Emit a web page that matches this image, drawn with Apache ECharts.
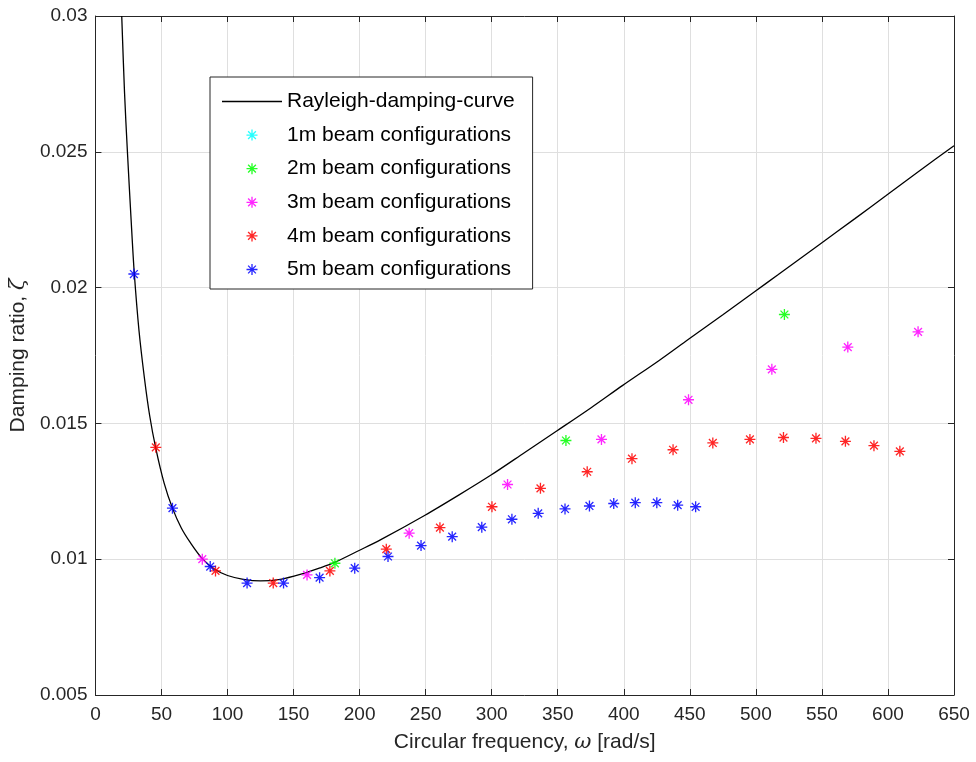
<!DOCTYPE html>
<html>
<head>
<meta charset="utf-8">
<script src="https://cdn.jsdelivr.net/npm/echarts@6/dist/echarts.min.js"></script>
<style>html,body{margin:0;padding:0;background:#fff}#c{width:976px;height:762px}</style>
</head>
<body>
<div id="c"></div>
<script>
// ---- data ----
const seriesNames = ['Rayleigh-damping-curve','1m beam configurations','2m beam configurations','3m beam configurations','4m beam configurations','5m beam configurations'];

const curveOmega = [19.9,22,24.2,27,29.3,33,37,41,45.7,52,58.3,65,72,80.9,90,100,112,125,140,155,170,181,200,215.7,249.5,275,299.2,325,349.2,375,399.2,426.5,449,475,499,517,548.2,575,598.4,625,650];
const curveZeta  = [0.0300,0.0272,0.0250,0.0225,0.0206,0.0184,0.0167,0.0153,0.01408,0.0128,0.01188,0.01115,0.0106,0.01002,0.00964,0.00940,0.00926,0.00920,0.00926,0.00944,0.00968,0.00988,0.01033,0.01071,0.01162,0.01236,0.01309,0.01393,0.01472,0.01557,0.01640,0.01731,0.01810,0.01900,0.01985,0.02048,0.02159,0.02254,0.02338,0.02434,0.02522];

const beam1Omega = [];
const beam1Zeta  = [];
const beam2Omega = [181.3,356.2,521.6];
const beam2Zeta  = [0.00985,0.01437,0.01901];
const beam3Omega = [80.9,160.2,237.5,312,383.1,449,512.1,569.6,622.8];
const beam3Zeta  = [0.0100,0.00942,0.01096,0.01275,0.01441,0.01587,0.01699,0.01781,0.01837];
const beam4Omega = [45.7,90.9,134.6,177.5,220.2,260.8,300.2,336.9,372.3,406.2,437.3,467.4,495.5,520.9,545.5,567.8,589.4,609];
const beam4Zeta  = [0.01412,0.00957,0.00912,0.00957,0.01037,0.01116,0.01193,0.01261,0.01322,0.0137,0.01403,0.01428,0.01441,0.01448,0.01445,0.01434,0.01418,0.01397];
const beam5Omega = [29.1,58.3,86.9,114.8,142.4,169.7,196.3,221.5,246.5,270.1,292.5,315.3,335.2,355.5,374,392.4,408.7,425,440.8,454.4];
const beam5Zeta  = [0.0205,0.01188,0.00973,0.00912,0.00912,0.00932,0.00967,0.0101,0.0105,0.01083,0.01118,0.01147,0.01169,0.01185,0.01196,0.01205,0.01208,0.01208,0.01199,0.01193];

const xTickLabels = ['0','50','100','150','200','250','300','350','400','450','500','550','600','650'];
const yTickLabels = ['0.005','0.01','0.015','0.02','0.025','0.03'];

// ---- build ----
const zip = (a, b) => a.map((v, i) => [v, b[i]]);
const TXT = '#262626';
const GRID = '#dfdfdf';
const FONT = '"Liberation Sans", Arial, Helvetica, sans-serif';
const AST = 'path://M-1.2,-10L1.2,-10L1.2,10L-1.2,10Z M-10,-1.2L10,-1.2L10,1.2L-10,1.2Z M-6.22,-7.92L7.92,6.22L6.22,7.92L-7.92,-6.22Z M6.22,-7.92L7.92,-6.22L-6.22,7.92L-7.92,6.22Z';
const LINE_ICON = 'path://M0,0L100,0L100,2.2L0,2.2Z';

const xMin = +xTickLabels[0], xMax = +xTickLabels[xTickLabels.length-1];
const xInt = +xTickLabels[1] - +xTickLabels[0];
const yMin = +yTickLabels[0], yMax = +yTickLabels[yTickLabels.length-1];
const yInt = 0.005;

function scatter(name, color, om, ze) {
  return {
    name, type: 'scatter', data: zip(om, ze),
    symbol: AST, symbolSize: 11, symbolKeepAspect: true,
    itemStyle: { color, opacity: 0.85 },
    emphasis: { disabled: true }, z: 3
  };
}

const chart = echarts.init(document.getElementById('c'), null, { renderer: 'canvas' });
const axisCommon = {
  axisLine: { show: true, onZero: false, lineStyle: { color: TXT, width: 1 } },
  axisTick: { show: true, inside: true, length: 6, lineStyle: { color: TXT, width: 1 } },
};
chart.setOption({
  animation: false,
  backgroundColor: '#fff',
  textStyle: { fontFamily: FONT },
  grid: { left: 94, right: 22, top: 16, bottom: 67, containLabel: false },
  legend: {
    orient: 'vertical', left: 210, top: 77,
    padding: [14, 18, 9, 12],
    itemWidth: 60, itemHeight: 11, itemGap: 12.6,
    symbolKeepAspect: true,
    backgroundColor: '#fff', borderColor: TXT, borderWidth: 1, borderRadius: 0,
    textStyle: { fontSize: 21, color: '#000', lineHeight: 20, fontFamily: FONT },
    data: seriesNames.map((n, i) => i === 0 ? { name: n, icon: LINE_ICON } : { name: n }),
    selectedMode: false
  },
  xAxis: [
    Object.assign({
      type: 'value', min: xMin, max: xMax, interval: xInt, position: 'bottom',
      name: 'Circular frequency, {i|ω} [rad/s]', nameLocation: 'middle', nameGap: 37,
      nameTextStyle: { fontSize: 21, color: TXT, fontFamily: FONT,
        rich: { i: { fontSize: 21, fontStyle: 'italic', color: TXT, fontFamily: '"DejaVu Serif", serif' } } },
      axisLabel: { fontSize: 19, color: TXT, margin: 10, fontFamily: FONT,
        formatter: (v) => xTickLabels[Math.round((v - xMin) / xInt)] },
      splitLine: { show: true, lineStyle: { color: GRID, width: 1 } }
    }, axisCommon),
    Object.assign({
      type: 'value', min: xMin, max: xMax, interval: xInt, position: 'top',
      axisLabel: { show: false }, splitLine: { show: false }
    }, axisCommon)
  ],
  yAxis: [
    Object.assign({
      type: 'value', min: yMin, max: yMax, interval: yInt, position: 'left',
      name: 'Damping ratio, {i|ζ}', nameLocation: 'middle', nameGap: 57,
      nameTextStyle: { fontSize: 21, color: TXT, fontFamily: FONT,
        rich: { i: { fontSize: 21, fontStyle: 'italic', color: TXT, fontFamily: '"DejaVu Serif", serif' } } },
      axisLabel: { fontSize: 19, color: TXT, margin: 8, fontFamily: FONT,
        formatter: (v) => yTickLabels[Math.round((v - yMin) / yInt)] },
      splitLine: { show: true, lineStyle: { color: GRID, width: 1 } }
    }, axisCommon),
    Object.assign({
      type: 'value', min: yMin, max: yMax, interval: yInt, position: 'right',
      axisLabel: { show: false }, splitLine: { show: false }
    }, axisCommon)
  ],
  series: [
    {
      name: seriesNames[0], type: 'line', data: zip(curveOmega, curveZeta),
      symbol: 'none', smooth: 0.3, clip: true,
      lineStyle: { color: '#000', width: 1.3 }, itemStyle: { color: '#000' },
      emphasis: { disabled: true }, z: 2
    },
    scatter(seriesNames[1], '#00ffff', beam1Omega, beam1Zeta),
    scatter(seriesNames[2], '#00ff00', beam2Omega, beam2Zeta),
    scatter(seriesNames[3], '#ff00ff', beam3Omega, beam3Zeta),
    scatter(seriesNames[4], '#ff0000', beam4Omega, beam4Zeta),
    scatter(seriesNames[5], '#0000ff', beam5Omega, beam5Zeta)
  ]
});
</script>
</body>
</html>
